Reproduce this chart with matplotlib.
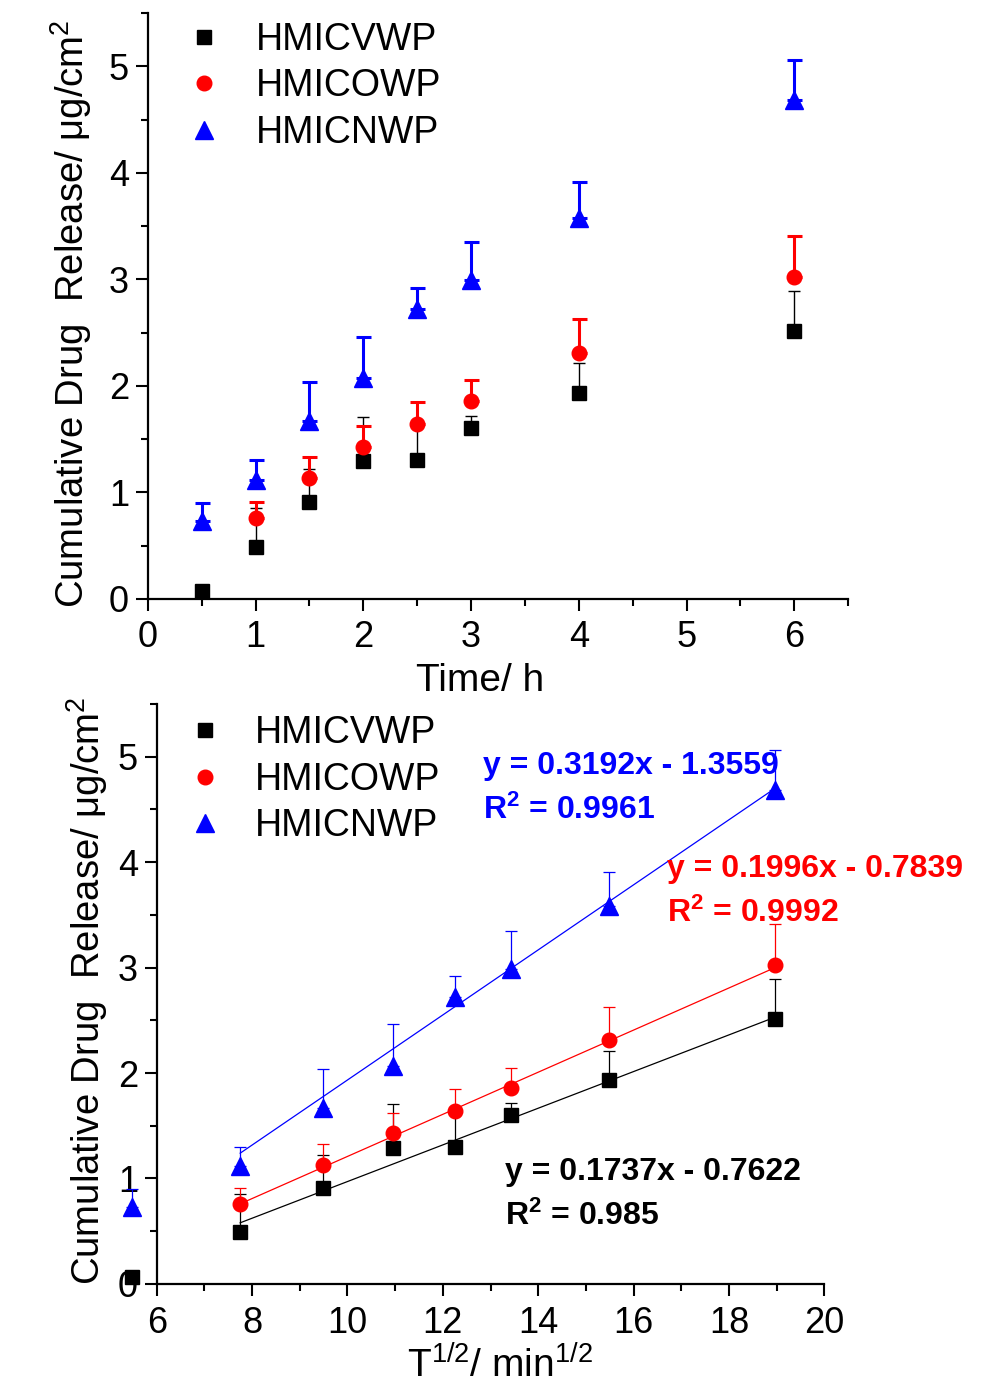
import numpy as np
import matplotlib
matplotlib.use('Agg')
import matplotlib.pyplot as plt
from matplotlib.lines import Line2D
from matplotlib.ticker import MultipleLocator

plt.rcParams['font.family'] = ['Liberation Sans', 'DejaVu Sans']
plt.rcParams['mathtext.default'] = 'regular'

# sampling times
timeH = [0.5, 1, 1.5, 2, 2.5, 3, 4, 6]
sqrtMin = [5.48, 7.75, 9.49, 10.95, 12.25, 13.42, 15.49, 18.97]

names = ['HMICVWP', 'HMICOWP', 'HMICNWP']
colors = ['black', 'red', 'blue']
markers = ['s', 'o', '^']
msizes = [9.5, 10.5, 13]

vwp = [0.07, 0.49, 0.91, 1.29, 1.30, 1.60, 1.93, 2.51]
vwpErr = [0.03, 0.36, 0.31, 0.42, 0.35, 0.12, 0.28, 0.38]
owp = [np.nan, 0.76, 1.13, 1.43, 1.64, 1.86, 2.31, 3.02]
owpErr = [0, 0.15, 0.20, 0.19, 0.21, 0.19, 0.32, 0.39]
nwp = [0.73, 1.12, 1.67, 2.07, 2.72, 2.99, 3.58, 4.68]
nwpErr = [0.17, 0.18, 0.37, 0.39, 0.20, 0.36, 0.33, 0.38]

# fitted line ends in the lower panel
fitX = [7.75, 18.97]
fitV = [0.58, 2.53]
fitO = [0.76, 3.00]
fitN = [1.24, 4.70]

eqText = ['y = 0.1737x - 0.7622\nR$^2$ = 0.985',
          'y = 0.1996x - 0.7839\nR$^2$ = 0.9992',
          'y = 0.3192x - 1.3559\nR$^2$ = 0.9961']
eqPos = [(13.31, 0.85), (16.71, 3.72), (12.85, 4.70)]

series = [(vwp, vwpErr), (owp, owpErr), (nwp, nwpErr)]
fits = [fitV, fitO, fitN]

fig = plt.figure(figsize=(9.92, 13.83), dpi=100)
ax1 = fig.add_axes([0.149, 0.567, 0.706, 0.4236])
ax2 = fig.add_axes([0.158, 0.0716, 0.673, 0.4195])

ylab = 'Cumulative Drug  Release/ \u03bcg/cm$^2$'


def styleAxes(ax):
    for s in ['top', 'right']:
        ax.spines[s].set_visible(False)
    for s in ['left', 'bottom']:
        ax.spines[s].set_linewidth(1.6)
    ax.tick_params(which='major', direction='out', length=8.5, width=1.5, labelsize=26)
    ax.tick_params(which='minor', direction='out', length=5, width=1.5)
    ax.tick_params(axis='x', pad=7)
    ax.tick_params(axis='y', pad=5)
    ax.set_ylim(0, 5.5)
    ax.yaxis.set_major_locator(MultipleLocator(1))
    ax.yaxis.set_minor_locator(MultipleLocator(0.5))


def drawSeries(ax, xs, thick):
    for i, (vals, err) in enumerate(series):
        lw = 2.2 if (thick and i > 0) else 1.0
        cap = 5.4 if (thick and i > 0) else 4.2
        if not thick:
            lw = 0.9
        c = ax.errorbar(xs, vals, yerr=[np.zeros(len(err)), err], fmt=markers[i],
                        color=colors[i], ms=msizes[i], capsize=cap, elinewidth=lw,
                        capthick=lw, zorder=3 + i)
        for a in c.get_children():
            a.set_clip_on(False)


def addLegend(ax, x0, y0, pad):
    hs = [Line2D([], [], ls='none', marker=markers[i], color=colors[i], ms=msizes[i])
          for i in range(3)]
    ax.legend(hs, names, loc='upper left', bbox_to_anchor=(x0, y0), frameon=False,
              fontsize=27, handlelength=1.0, handletextpad=pad, labelspacing=0.28,
              borderpad=0, borderaxespad=0)


# upper panel
styleAxes(ax1)
drawSeries(ax1, timeH, True)
ax1.set_xlim(0, 6.5)
ax1.xaxis.set_major_locator(MultipleLocator(1))
ax1.xaxis.set_minor_locator(MultipleLocator(0.5))
ax1.set_xticks([0, 1, 2, 3, 4, 5, 6])
ax1.set_ylabel(ylab, fontsize=27.5)
ax1.yaxis.set_label_coords(-0.077, 0.487)
ax1.set_xlabel('Time/ h', fontsize=28)
ax1.xaxis.set_label_coords(0.474, -0.11)
addLegend(ax1, 0.053, 0.985, 0.9)

# lower panel
styleAxes(ax2)
drawSeries(ax2, sqrtMin, False)
for i in range(3):
    ax2.plot(fitX, fits[i], color=colors[i], lw=0.9, zorder=2)
    ax2.text(eqPos[i][0], eqPos[i][1], eqText[i], color=colors[i], fontsize=23,
             fontweight='bold', ha='left', va='center', linespacing=1.55)
ax2.set_xlim(6, 20)
ax2.xaxis.set_major_locator(MultipleLocator(2))
ax2.xaxis.set_minor_locator(MultipleLocator(1))
ax2.set_ylabel(ylab, fontsize=27.5)
ax2.yaxis.set_label_coords(-0.07, 0.505)
ax2.set_xlabel('T$^{1/2}$/ min$^{1/2}$', fontsize=28)
ax2.xaxis.set_label_coords(0.514, -0.107)
addLegend(ax2, 0.0435, 0.98, 0.85)

fig.savefig('out.png', dpi=100)
